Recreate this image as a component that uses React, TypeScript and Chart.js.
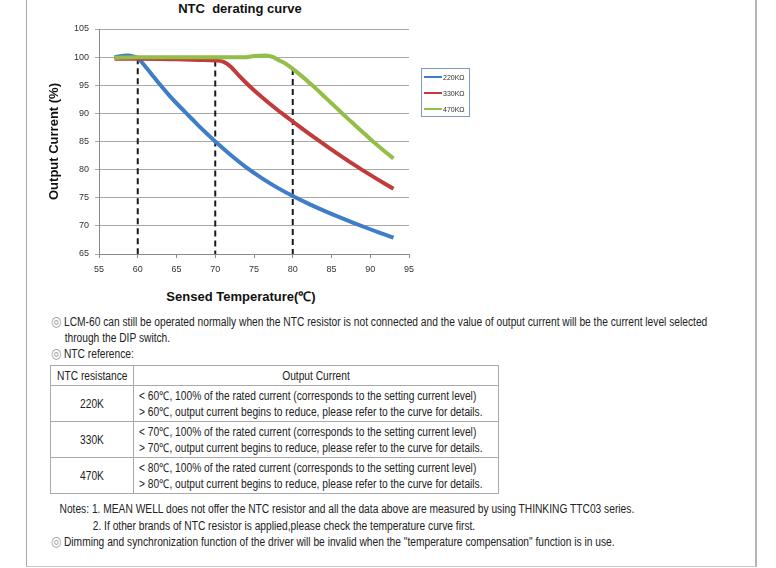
import React, { useEffect, useRef } from 'react';
import { Chart, registerables } from 'chart.js';

Chart.register(...registerables);

// ---- data ----
const temps220 = [57, 58, 58.7, 59.5, 60, 61, 62, 63, 64, 65, 66, 67, 68, 69, 70, 72, 74, 76, 78, 80, 82, 84, 86, 88, 90, 92, 93];
const current220 = [100, 100.2, 100.3, 100.1, 99.8, 98.3, 96.6, 94.9, 93.3, 91.8, 90.4, 89.0, 87.6, 86.3, 85.0, 82.6, 80.4, 78.5, 76.8, 75.3, 73.95, 72.7, 71.55, 70.45, 69.4, 68.4, 67.9];

const temps330 = [57, 60, 65, 68, 70, 71, 72, 73, 74, 75, 76, 77, 78, 79, 80, 81, 82, 83, 84, 85, 86, 87, 88, 89, 90, 91, 92, 93];
const current330 = [99.7, 99.7, 99.6, 99.5, 99.4, 99.2, 98.3, 96.8, 95.4, 94.1, 92.9, 91.75, 90.65, 89.6, 88.55, 87.52, 86.5, 85.5, 84.52, 83.56, 82.62, 81.7, 80.8, 79.92, 79.06, 78.22, 77.4, 76.6];

const temps470 = [57, 60, 65, 70, 74, 75, 76.5, 77.5, 78, 79, 80, 81, 82, 83, 84, 85, 86, 87, 88, 89, 90, 91, 92, 93];
const current470 = [99.9, 100, 100, 100, 100, 100.2, 100.3, 100, 99.6, 98.9, 97.9, 96.8, 95.6, 94.4, 93.1, 91.8, 90.5, 89.2, 87.95, 86.7, 85.45, 84.25, 83.1, 82.0];

const seriesLabels = ['220KΩ', '330KΩ', '470KΩ'];
const markerTemps = [60, 70, 80];
const markerTops = [99.8, 99.4, 97.9];
const markerFloor = 65;

const xMin = 55, xMax = 95, xStep = 5;
const yMin = 65, yMax = 105, yStep = 5;

const BLUE = '#3f7dc6';
const RED = '#c23b3b';
const GREEN = '#93bf48';
const colors = [BLUE, RED, GREEN];

const tableRows = [
  { r: '220K', t: '60' },
  { r: '330K', t: '70' },
  { r: '470K', t: '80' },
];

const CFONT = "'Liberation Sans', Arial, sans-serif";
const SX = 0.852;

const toPts = (xs: number[], ys: number[]) => xs.map((x, i) => ({ x, y: ys[i] }));

function NTCChart() {
  const ref = useRef<HTMLCanvasElement | null>(null);
  useEffect(() => {
    if (!ref.current) return;
    const curves = [
      [temps220, current220],
      [temps330, current330],
      [temps470, current470],
    ];
    const datasets: any[] = curves.map((c, i) => ({
      label: seriesLabels[i],
      data: toPts(c[0], c[1]),
      borderColor: colors[i],
      backgroundColor: colors[i],
      borderWidth: 4,
      pointRadius: 0,
      fill: false,
      cubicInterpolationMode: 'monotone',
      order: 3 - i,
    }));
    markerTemps.forEach((t, i) => {
      datasets.push({
        label: 'marker' + t,
        data: [{ x: t, y: markerTops[i] }, { x: t, y: markerFloor }],
        borderColor: '#1a1a1a',
        borderWidth: 2,
        borderDash: [6, 4],
        pointRadius: 0,
        fill: false,
        order: 10,
      });
    });
    const chart = new Chart(ref.current, {
      type: 'line',
      data: { datasets },
      options: {
        animation: false,
        responsive: false,
        devicePixelRatio: 1,
        layout: { padding: { top: 29, right: 17, left: 0, bottom: 0 } },
        plugins: { legend: { display: false }, tooltip: { enabled: false }, title: { display: false } },
        scales: {
          x: {
            type: 'linear',
            min: xMin,
            max: xMax,
            afterFit: (s: any) => { s.height = 21; },
            ticks: { stepSize: xStep, color: '#333', font: { family: CFONT, size: 9 }, padding: 6 },
            grid: { drawOnChartArea: false, drawTicks: true, tickLength: 4, color: '#8a8a8a' },
            border: { display: true, color: '#8a8a8a', width: 1 },
          },
          y: {
            type: 'linear',
            min: yMin,
            max: yMax,
            afterFit: (s: any) => { s.width = 53; },
            ticks: { stepSize: yStep, color: '#333', font: { family: CFONT, size: 9 }, padding: 6 },
            grid: { color: '#a8a8a8', lineWidth: 1, tickLength: 4 },
            border: { display: true, color: '#8a8a8a', width: 1 },
            title: {
              display: true,
              text: 'Output Current (%)',
              color: '#111',
              font: { family: CFONT, size: 13, weight: 'bold' },
              padding: { top: 1, bottom: 0 },
            },
          },
        },
      },
    });
    return () => chart.destroy();
  }, []);
  return <canvas ref={ref} width={380} height={275} style={{ position: 'absolute', left: 46, top: 0 }} />;
}

const circ = (
  <span style={{ color: '#9a9a9a', fontFamily: "'DejaVu Sans', sans-serif", fontSize: 14, lineHeight: '14px', marginRight: 3 }}>◎</span>
);

function Cond({ children, origin = 'left', style = {} }: any) {
  return (
    <div style={{ whiteSpace: 'nowrap', transform: `scaleX(${SX})`, transformOrigin: origin, ...style }}>{children}</div>
  );
}

export default function App() {
  const cellBorder = '1px solid #a9a9a9';
  const textStyle: any = { position: 'absolute', fontFamily: CFONT, fontSize: 12, color: '#222', whiteSpace: 'nowrap' };
  return (
    <div style={{ position: 'absolute', left: 0, top: 0, width: 776, height: 568, background: '#fff', overflow: 'hidden', fontFamily: CFONT, color: '#222' }}>
      <div style={{ position: 'absolute', left: 26, top: -4, width: 728, height: 570, borderLeft: '1px solid #aaa', borderRight: '2px solid #b4b4b4', borderBottom: '1px solid #c8c8c8' }} />
      <div style={{ position: 'absolute', left: 140, top: 1, width: 200, textAlign: 'center', fontWeight: 'bold', fontSize: 13, lineHeight: '16px', whiteSpace: 'pre', color: '#111' }}>NTC  derating curve</div>
      <NTCChart />
      <div style={{ position: 'absolute', left: 140, top: 288, width: 202, textAlign: 'center', fontWeight: 'bold', fontSize: 13, lineHeight: '18px', color: '#111' }}>Sensed Temperature(℃)</div>
      <div style={{ position: 'absolute', left: 421, top: 68, width: 47, height: 47, border: '1px solid #7d98c2', fontSize: 7, color: '#333' }}>
        {seriesLabels.map((l, i) => (
          <div key={l} style={{ display: 'flex', alignItems: 'center', height: 16 }}>
            <span style={{ display: 'inline-block', width: 18, height: 2, background: colors[i], marginLeft: 2, marginRight: 1 }} />
            <span>{l}</span>
          </div>
        ))}
      </div>

      <div style={{ ...textStyle, left: 51, top: 314, lineHeight: '16px' }}>
        <Cond>{circ}LCM-60 can still be operated normally when the NTC resistor is not connected and the value of output current will be the current level selected</Cond>
        <Cond style={{ paddingLeft: 16 }}>through the DIP switch.</Cond>
        <Cond>{circ}NTC reference:</Cond>
      </div>

      <table style={{ position: 'absolute', left: 50, top: 365, width: 449, borderCollapse: 'collapse', fontSize: 12, lineHeight: '16px', tableLayout: 'fixed' }}>
        <tbody>
          <tr style={{ height: 20 }}>
            <td style={{ border: cellBorder, width: 82, textAlign: 'center', padding: 0 }}>
              <Cond origin="center">NTC resistance</Cond>
            </td>
            <td style={{ border: cellBorder, textAlign: 'center', padding: 0 }}>
              <Cond origin="center">Output Current</Cond>
            </td>
          </tr>
          {tableRows.map((row) => (
            <tr key={row.r} style={{ height: 36 }}>
              <td style={{ border: cellBorder, textAlign: 'center', padding: 0 }}>
                <Cond origin="center">{row.r}</Cond>
              </td>
              <td style={{ border: cellBorder, padding: '0 0 0 5px', overflow: 'visible' }}>
                <Cond>&lt; {row.t}℃, 100% of the rated current (corresponds to the setting current level)</Cond>
                <Cond>&gt; {row.t}℃, output current begins to reduce, please refer to the curve for details.</Cond>
              </td>
            </tr>
          ))}
        </tbody>
      </table>

      <div style={{ ...textStyle, left: 51, top: 501, lineHeight: '16.5px' }}>
        <Cond style={{ paddingLeft: 10 }}>Notes: 1. MEAN WELL does not offer the NTC resistor and all the data above are measured by using THINKING TTC03 series.</Cond>
        <Cond style={{ paddingLeft: 49 }}>2. If other brands of NTC resistor is applied,please check the temperature curve first.</Cond>
        <Cond>{circ}Dimming and synchronization function of the driver will be invalid when the "temperature compensation" function is in use.</Cond>
      </div>
    </div>
  );
}
